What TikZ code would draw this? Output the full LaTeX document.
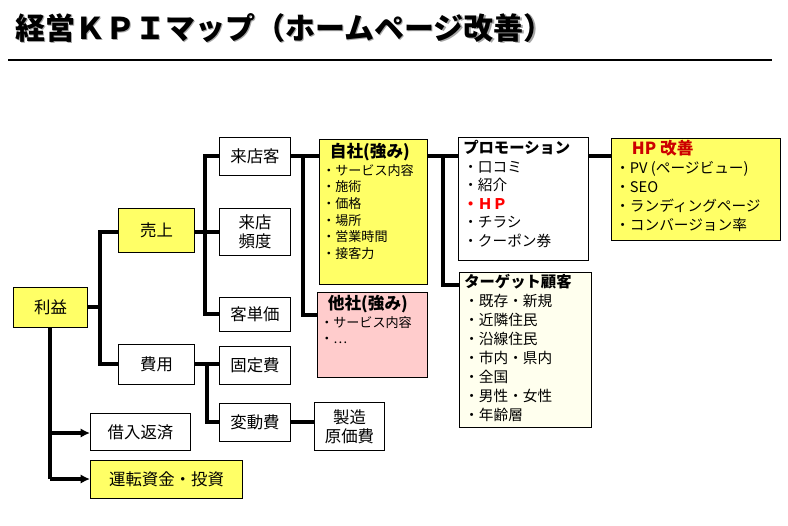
\documentclass[tikz,border=0pt]{standalone}
\usepackage{fontspec}
\setmainfont{Noto Sans CJK JP}
\usetikzlibrary{arrows.meta}
\definecolor{yel}{HTML}{FFFF66}
\definecolor{pnk}{HTML}{FFCCCC}
\definecolor{lyel}{HTML}{FFFFEE}
\definecolor{hpred}{HTML}{CC0000}
\def\p{0.75pt}
\newcommand\bx[6]{\node[box,fill=#6,minimum width=#4*\p,minimum height=#5*\p] (#1) at (#2,#3) {};}
\tikzset{
  box/.style={draw,line width=0.8pt,inner sep=0,anchor=north west},
  lbl/.style={font=\fontsize{12.3}{14}\selectfont},
  lst/.style n args={2}{anchor=north west,align=left,inner sep=0,font=\fontsize{#1}{#2}\selectfont},
  wire/.style={line width=2.6pt},
  arr/.style={line width=2.6pt,-{Latex[length=7pt,width=7pt]}}
}
\begin{document}
\begin{tikzpicture}[x=0.75pt,y=-0.75pt]
\useasboundingbox (0,0) rectangle (788,525);
% title
\node[anchor=west,inner sep=0,text=black!35,font=\fontsize{22.5}{25}\selectfont\bfseries] (tsh) at (16.5,29.5) {経営ＫＰＩマップ（ホームページ改善）};
\node[anchor=west,inner sep=0,font=\fontsize{22.5}{25}\selectfont\bfseries] (title) at (15,28) {経営ＫＰＩマップ（ホームページ改善）};
\coordinate (l1) at (8,60); \coordinate (l2) at (772,60);
\draw[line width=0.8pt] (l1) -- (l2);
% boxes
\bx{rieki}{13}{287}{74}{40}{yel}
\bx{uri}{118}{208}{76}{44}{yel}
\bx{hiyo}{118}{344}{76}{40}{white}
\bx{kyaku}{219}{137}{71}{38}{white}
\bx{hindo}{219}{208}{71}{47}{white}
\bx{tanka}{219}{297}{71}{34}{white}
\bx{kotei}{219}{346}{71}{38}{white}
\bx{hendo}{219}{403}{71}{38}{white}
\bx{seizo}{314}{402}{70}{48}{white}
\bx{kari}{90}{413}{100}{37}{white}
\bx{unten}{90}{460}{152}{38}{yel}
\bx{jisha}{319}{139}{108}{145}{yel}
\bx{tasha}{317}{292}{110}{85}{pnk}
\bx{promo}{458}{137}{130}{123}{white}
\bx{target}{459}{272}{132}{155}{lyel}
\bx{hp}{611}{138}{169}{102}{yel}
% labels
\node[lbl] (trieki) at (rieki.center) {利益};
\node[lbl] (turi) at (uri.center) {売上};
\node[lbl] (thiyo) at (hiyo.center) {費用};
\node[lbl] (tkyaku) at (kyaku.center) {来店客};
\node[lbl,align=center] (thindo) at (hindo.center) {来店\\頻度};
\node[lbl] (ttanka) at (tanka.center) {客単価};
\node[lbl] (tkotei) at (kotei.center) {固定費};
\node[lbl] (thendo) at (hendo.center) {変動費};
\node[lbl,align=center] (tseizo) at (seizo.center) {製造\\原価費};
\node[lbl] (tkari) at (kari.center) {借入返済};
\node[lbl] (tunten) at (unten.center) {運転資金・投資};
% lists
\node[lst={9.8}{12.4}] (ljisha) at (322,143) {{\fontsize{12.5}{14}\selectfont\bfseries\ \ 自社(強み)}\\[1pt]・サービス内容\\・施術\\・価格\\・場所\\・営業時間\\・接客力};
\node[lst={9.8}{12.4}] (ltasha) at (320,295) {{\fontsize{12.5}{14}\selectfont\bfseries\ \ 他社(強み)}\\[1pt]・サービス内容\\・…};
\node[lst={11}{13.9}] (lpromo) at (463,140) {{\fontsize{11.5}{13}\selectfont\bfseries プロモーション}\\ ・口コミ\\ ・紹介\\ {\color{red}\bfseries ・ＨＰ}\\ ・チラシ\\ ・クーポン券};
\node[lst={11}{14.2}] (ltarget) at (464,274) {{\fontsize{11.5}{13}\selectfont\bfseries ターゲット顧客}\\ ・既存・新規\\ ・近隣住民\\ ・沿線住民\\ ・市内・県内\\ ・全国\\ ・男性・女性\\ ・年齢層};
\node[lst={11}{14.2}] (lhp) at (615,140) {{\fontsize{12.5}{14}\selectfont\bfseries\color{hpred}\quad HP 改善}\\・PV (ページビュー)\\・SEO\\・ランディングページ\\・コンバージョン率};
% connectors
\coordinate (a1) at (100,307); \coordinate (a2) at (100,232); \coordinate (a3) at (100,364);
\draw[wire] (rieki.east|-a1) -- (a1);
\draw[wire] (uri.west|-a2) -- (a2) -- (a3) -- (hiyo.west|-a3);
\coordinate (b0) at (50,327); \coordinate (b1) at (50,433); \coordinate (b2) at (50,479);
\draw[wire] (rieki.south-|b0) -- (b2);
\draw[arr] (b1) -- (kari.west|-b1);
\draw[arr] (b2) -- (unten.west|-b2);
\coordinate (c1) at (205,156); \coordinate (c2) at (205,232); \coordinate (c3) at (205,314);
\draw[wire] (kyaku.west|-c1) -- (c1) -- (c3) -- (tanka.west|-c3);
\draw[wire] (uri.east|-c2) -- (hindo.west|-c2);
\coordinate (d1) at (207,364); \coordinate (d2) at (207,422);
\draw[wire] (hiyo.east|-d1) -- (kotei.west|-d1);
\draw[wire] (d1) -- (d2) -- (hendo.west|-d2);
\draw[wire] (hendo.east|-d2) -- (seizo.west|-d2);
\coordinate (e1) at (303,156); \coordinate (e2) at (303,315);
\draw[wire] (kyaku.east|-e1) -- (jisha.west|-e1);
\draw[wire] (e1) -- (e2) -- (tasha.west|-e2);
\coordinate (f1) at (443,156); \coordinate (f2) at (443,285);
\draw[wire] (jisha.east|-f1) -- (promo.west|-f1);
\draw[wire] (f1) -- (f2) -- (target.west|-f2);
\draw[wire] (promo.east|-f1) -- (hp.west|-f1);
\end{tikzpicture}
\end{document}
